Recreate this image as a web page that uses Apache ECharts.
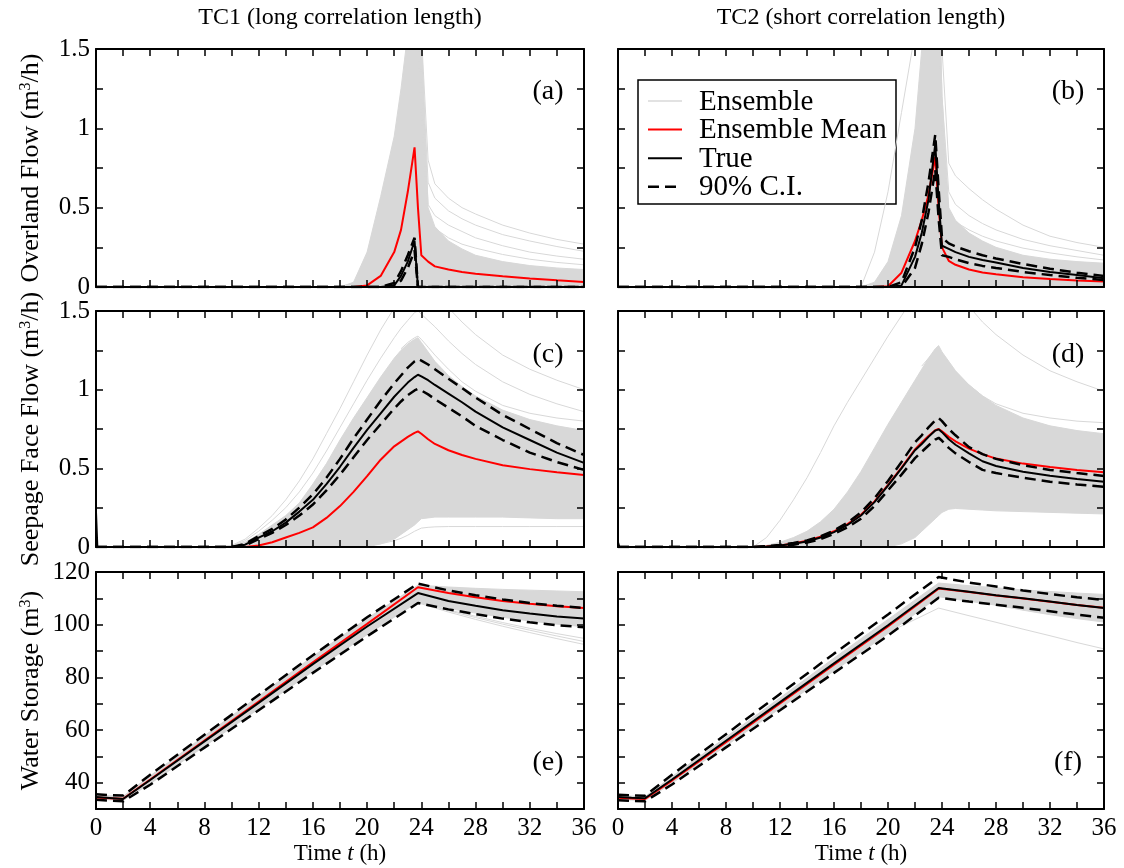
<!DOCTYPE html>
<html>
<head>
<meta charset="utf-8">
<script src="https://cdn.jsdelivr.net/npm/echarts@6/dist/echarts.min.js"></script>
<style>html,body{margin:0;padding:0;background:#fff}#c{width:1124px;height:868px}</style>
</head>
<body>
<div id="c"></div>
<script>
// ---------- time grids (h) ----------
const T  = [0, 0.1, 2, 4, 6, 8, 10, 11, 12, 13, 14, 15, 16, 17, 18, 19, 20, 21, 22, 22.5, 23, 23.5, 23.75, 24, 24.5, 25, 26, 27, 28, 30, 32, 34, 36];
const TT = [23.5, 23.75, 24, 24.5, 25, 26, 27, 28, 30, 32, 34, 36];
const TC = [22.5, 23, 23.5, 23.75, 24, 24.5, 25, 26, 27, 28, 30, 32, 34, 36];
const TS = [0, 1, 2, 4, 8, 12, 16, 20, 23.75, 26, 28, 30, 32, 34, 36];
const TE = [20, 23.75, 26, 28, 30, 32, 34, 36];

// ---------- (a) Overland flow, TC1 ----------
const aMean = [0,0,0,0,0,0,0,0,0,0,0,0,0,0,0,0, 0.01,0.07,0.22,0.36,0.6,0.88,0.5,0.2,0.16,0.13,0.11,0.095,0.084,0.068,0.053,0.042,0.032];
const aTrue = [0,0,0,0,0,0,0,0,0,0,0,0,0,0,0,0,0,0, 0.01,0.07,0.16,0.29,0,0, 0,0,0,0,0,0,0,0,0];
const aUp   = [0,0,0,0,0,0,0,0,0,0,0,0,0,0,0,0,0,0, 0.025,0.1,0.2,0.31,0,0, 0,0,0,0,0,0,0,0,0];
const aLo   = [0,0,0,0,0,0,0,0,0,0,0,0,0,0,0,0,0,0, 0,0.04,0.12,0.23,0,0, 0,0,0,0,0,0,0,0,0];
const aBandHi = [0,0,0,0,0,0,0,0,0,0,0,0,0,0,0, 0.03,0.22,0.57,0.95,1.25,1.6,2.0,2.0,1.6,0.5,0.38,0.29,0.24,0.2,0.16,0.135,0.12,0.11];
const aE1 = [2.0,2.0,1.6,0.8,0.65,0.56,0.5,0.46,0.39,0.34,0.3,0.27];
const aE2 = [2.0,2.0,1.5,0.66,0.56,0.48,0.43,0.39,0.33,0.29,0.255,0.225];
const aE3 = [2.0,1.8,1.3,0.52,0.45,0.39,0.35,0.31,0.26,0.22,0.195,0.175];
const aE4 = [2.0,1.6,1.1,0.44,0.37,0.31,0.27,0.245,0.205,0.175,0.155,0.14];

// ---------- (b) Overland flow, TC2 ----------
const bMean = [0,0,0,0,0,0,0,0,0,0,0,0,0,0,0,0, 0.005,0.09,0.29,0.42,0.58,0.82,0.5,0.25,0.165,0.14,0.11,0.092,0.08,0.062,0.05,0.041,0.034];
const bTrue = [0,0,0,0,0,0,0,0,0,0,0,0,0,0,0,0,0, 0.01,0.19,0.34,0.55,0.9,0.55,0.26,0.24,0.22,0.19,0.17,0.155,0.12,0.095,0.075,0.055];
const bUp   = [0,0,0,0,0,0,0,0,0,0,0,0,0,0,0,0,0, 0.03,0.25,0.42,0.66,0.96,0.62,0.31,0.275,0.255,0.225,0.2,0.18,0.145,0.115,0.09,0.07];
const bLo   = [0,0,0,0,0,0,0,0,0,0,0,0,0,0,0,0,0, 0,0.12,0.27,0.47,0.74,0.43,0.2,0.19,0.175,0.15,0.133,0.12,0.095,0.075,0.058,0.044];
const bBandHi = [0,0,0,0,0,0,0,0,0,0,0,0,0,0,0, 0.03,0.16,0.45,1.0,1.5,2.0,2.2,2.0,1.2,0.5,0.42,0.34,0.29,0.25,0.2,0.175,0.16,0.15];
const bE1 = [0,0,0,0,0,0,0,0,0,0,0,0,0,0, 0,0.22,0.6,1.1,1.6,1.9,2.2,2.4,2.2,1.5,0.78,0.7,0.62,0.55,0.49,0.39,0.32,0.28,0.25];
const bE2 = [2.2,2.0,1.2,0.6,0.52,0.45,0.4,0.36,0.3,0.26,0.23,0.2];
const bE3 = [2.2,1.8,1.0,0.47,0.41,0.36,0.32,0.29,0.245,0.215,0.19,0.17];

// ---------- (c) Seepage face flow, TC1 ----------
const cTrue = [0.22,0, 0,0,0,0,0, 0.015,0.06,0.1,0.155,0.225,0.3,0.4,0.51,0.63,0.745,0.85, 0.955,1.0,1.045,1.08,1.095,1.085,1.06,1.03, 0.975,0.92,0.86, 0.76,0.68,0.6,0.535];
const cUp   = [0,0,0,0,0,0,0, 0.02,0.07,0.115,0.175,0.25,0.335,0.44,0.56,0.69,0.81,0.93, 1.04,1.09,1.14,1.18,1.195,1.185,1.16,1.13, 1.07,1.01,0.95, 0.84,0.75,0.66,0.585];
const cLo   = [0,0,0,0,0,0,0, 0.01,0.05,0.09,0.14,0.2,0.27,0.36,0.46,0.57,0.68,0.78, 0.88,0.925,0.965,0.995,1.005,0.995,0.97,0.94, 0.885,0.83,0.77, 0.68,0.6,0.54,0.49];
const cMean = [0,0,0,0,0,0,0,0, 0.01,0.03,0.06,0.09,0.125,0.185,0.26,0.35,0.45,0.555, 0.64,0.67,0.7,0.725,0.735,0.72,0.685,0.655, 0.615,0.585,0.56, 0.52,0.495,0.475,0.457];
const cBandLo = [0,0,0,0,0,0,0,0,0,0,0,0,0,0,0,0,0, 0.02, 0.05,0.08,0.11,0.14,0.16,0.18,0.185,0.19, 0.19,0.19,0.19, 0.19,0.185,0.18,0.18];
const cBandHi = [0,0,0,0,0,0, 0.005, 0.03,0.08,0.14,0.2,0.28,0.4,0.53,0.68,0.82,0.95,1.08, 1.2,1.25,1.29,1.32,1.33,1.3,1.24,1.18, 1.09,1.02,0.96, 0.87,0.81,0.77,0.74];
const cE1 = [0,0,0,0,0,0, 0.01, 0.05,0.12,0.2,0.3,0.42,0.56,0.72,0.88,1.05,1.22,1.38, 1.52,1.58,1.64,1.7,1.72,1.7,1.66,1.62, 1.52,1.43,1.35, 1.22,1.13,1.06,1.0];
const cE2 = [0,0,0,0,0,0, 0.005, 0.04,0.1,0.17,0.25,0.35,0.47,0.61,0.76,0.91,1.06,1.2, 1.33,1.39,1.44,1.49,1.5,1.48,1.44,1.4, 1.31,1.23,1.16, 1.05,0.97,0.91,0.86];
const cE3 = [0,0,0,0,0,0,0,0,0,0,0,0,0,0,0,0, 0.01,0.02, 0.04,0.055,0.075,0.1,0.11,0.12,0.125,0.128, 0.13,0.13,0.13, 0.13,0.13,0.13,0.13];
const cE4 = [1.26,1.3,1.33,1.34,1.32,1.27,1.22,1.13,1.05,0.99,0.9,0.85,0.82,0.8];

// ---------- (d) Seepage face flow, TC2 ----------
const dTrue = [0.03,0, 0,0,0,0,0, 0.003,0.01,0.02,0.035,0.06,0.095,0.14,0.2,0.285,0.39,0.5, 0.615,0.655,0.7,0.74,0.748,0.73,0.685,0.65, 0.595,0.545,0.515, 0.478,0.453,0.432,0.414];
const dMean = [0,0,0,0,0,0,0, 0.003,0.01,0.022,0.04,0.065,0.1,0.145,0.205,0.29,0.395,0.505, 0.62,0.665,0.705,0.742,0.75,0.735,0.7,0.672, 0.625,0.59,0.562, 0.53,0.508,0.49,0.475];
const dUp   = [0,0,0,0,0,0,0, 0.005,0.013,0.025,0.042,0.068,0.105,0.155,0.22,0.31,0.42,0.54, 0.665,0.71,0.76,0.805,0.82,0.8,0.75,0.71, 0.635,0.59,0.56, 0.52,0.49,0.47,0.452];
const dLo   = [0,0,0,0,0,0,0, 0.002,0.007,0.015,0.028,0.05,0.083,0.125,0.18,0.26,0.36,0.46, 0.565,0.605,0.645,0.683,0.694,0.675,0.63,0.595, 0.54,0.49,0.47, 0.44,0.415,0.398,0.383];
const dBandLo = [0,0,0,0,0,0,0,0,0,0,0,0,0,0,0,0,0, 0.02, 0.06,0.1,0.14,0.18,0.2,0.22,0.24,0.245, 0.24,0.235,0.23, 0.225,0.22,0.215,0.21];
const dBandHi = [0,0,0,0,0,0,0, 0.01,0.03,0.06,0.1,0.16,0.24,0.35,0.48,0.63,0.78,0.92, 1.06,1.13,1.2,1.26,1.28,1.24,1.18,1.12, 1.03,0.96,0.9, 0.82,0.77,0.74,0.72];
const dOut = [0,0,0,0,0,0, 0, 0.06,0.17,0.3,0.44,0.6,0.77,0.92,1.06,1.2,1.34,1.47, 1.6,1.66,1.72,1.77,1.78,1.76,1.72,1.67, 1.53,1.43,1.35, 1.22,1.12,1.05,0.99];
const dE2 = [1.15,1.2,1.24,1.25,1.22,1.16,1.11,1.03,0.96,0.91,0.85,0.82,0.8,0.79];

// ---------- (e) Water storage, TC1 ----------
const eTrue = [34.6,34.2,33.8,41.0,55.7,70.3,85.0,99.3,112.0,109.0,107.2,105.5,104.2,103.1,102.3];
const eMean = [34.4,34.1,33.9,41.2,56.0,70.8,85.7,100.3,114.2,112.0,110.4,109.0,107.9,107.0,106.3];
const eUp   = [35.6,35.3,35.1,43.0,58.2,73.3,88.4,102.8,115.6,113.0,111.2,109.6,108.2,107.2,106.3];
const eLo   = [33.5,33.2,32.9,39.2,53.3,67.5,81.7,95.6,108.2,105.8,104.0,102.3,100.9,99.8,99.0];
const eBandHi = [35.3,35.0,34.8,42.6,57.8,72.9,88.0,102.4,115.0,114.3,113.8,113.4,113.1,112.8,112.5];
const eBandLo = [33.8,33.5,33.2,39.6,53.8,68.0,82.2,96.2,108.6,106.2,104.4,102.8,101.4,100.2,99.2];
const eE1 = [98.5,108.6,105.3,102.7,100.2,97.9,95.7,93.6];
const eE2 = [98.8,108.9,105.6,103.2,100.8,98.6,96.6,94.8];
const eE3 = [98.2,108.3,104.8,102.0,99.4,97.0,94.7,92.5];

// ---------- (f) Water storage, TC2 ----------
const fTrue = [34.6,34.3,34.1,41.2,55.9,70.6,85.3,99.8,113.9,112.5,111.2,110.0,108.8,107.5,106.3];
const fMean = [34.3,34.0,33.8,40.8,55.4,70.1,84.8,99.3,113.7,112.4,111.1,109.9,108.7,107.5,106.4];
const fUp   = [35.4,35.2,35.0,43.0,58.4,73.7,89.0,103.9,118.1,116.0,114.5,113.0,111.6,110.4,109.4];
const fLo   = [33.3,33.1,32.9,39.3,53.4,67.5,81.7,95.8,110.2,108.8,107.6,106.4,105.1,103.8,102.6];
const fBandHi = [35.1,34.9,34.7,42.3,57.3,72.2,87.3,102.0,115.8,114.8,114.0,113.2,112.6,112.0,111.5];
const fBandLo = [33.6,33.4,33.2,39.8,54.0,68.2,82.4,96.6,110.6,108.9,107.4,105.5,103.8,102.3,101.0];
const fOut  = [34.5,34.2,33.9,40.8,55.3,69.8,83.7,97.0,106.3,103.4,100.9,98.3,95.8,93.2,90.8];

// ---------- labels ----------
const colTitles = ['TC1 (long correlation length)', 'TC2 (short correlation length)'];
const panelTags = ['(a)', '(b)', '(c)', '(d)', '(e)', '(f)'];
const yNames = ['Overland Flow (m{s|3}/h)', 'Seepage Face Flow (m{s|3}/h)', 'Water Storage (m{s|3})'];
const xName = 'Time {it|t} (h)';
const legendNames = ['Ensemble', 'Ensemble Mean', 'True', '90% C.I.'];

// ---------- styling / layout ----------
const FONT = "'Liberation Serif','Times New Roman','DejaVu Serif',serif";
const GRAY = '#d8d8d8';
const RED = '#ff0000';
const DASH = [11, 6];

const layout = [
  {g:{left:96,  top:49,  width:488, height:238}, col:0, row:0, tag:[548, 92]},
  {g:{left:618, top:49,  width:486, height:238}, col:1, row:0, tag:[1068, 92]},
  {g:{left:96,  top:311, width:488, height:236}, col:0, row:1, tag:[548, 355]},
  {g:{left:618, top:311, width:486, height:236}, col:1, row:1, tag:[1068, 355]},
  {g:{left:96,  top:572, width:488, height:237}, col:0, row:2, tag:[548, 763]},
  {g:{left:618, top:572, width:486, height:237}, col:1, row:2, tag:[1068, 763]}
];

const flowFmt = v => (Math.abs(v * 2 - Math.round(v * 2)) < 1e-6 ? String(+v.toFixed(2)) : '');
const storFmt = v => (v % 20 === 0 ? String(v) : '');

const grids = [], xAxes = [], yAxes = [], series = [], graphics = [];

layout.forEach((p, i) => {
  grids.push(Object.assign({containLabel:false, show:false}, p.g));
  const isStor = p.row === 2;
  const common = {
    type:'value', gridIndex:i, z:5, splitLine:{show:false},
    axisLine:{show:true, onZero:false, lineStyle:{color:'#000', width:2}},
    axisTick:{show:true, inside:true, length:7, lineStyle:{color:'#000', width:1.5}},
    minorTick:{show:false}
  };
  const labStyle = {fontFamily:FONT, fontSize:25, color:'#000'};
  xAxes.push(Object.assign({}, common, {
    position:'bottom', min:0, max:36, interval:2,
    axisLabel:Object.assign({show:isStor, margin:7, showMinLabel:true, showMaxLabel:true,
      formatter:v => (v % 4 === 0 ? String(v) : '')}, labStyle),
    name: isStor ? xName : '', nameLocation:'middle', nameGap:33,
    nameTextStyle:{fontFamily:FONT, fontSize:23, color:'#000', rich:{it:{fontFamily:FONT, fontSize:23, fontStyle:'italic', color:'#000'}}}
  }));
  xAxes.push(Object.assign({}, common, {position:'top', min:0, max:36, interval:2, axisLabel:{show:false}}));
  yAxes.push(Object.assign({}, common, {
    position:'left',
    min: isStor ? 30 : 0, max: isStor ? 120 : 1.5, interval: isStor ? 10 : 0.25,
    axisLabel:Object.assign({show:p.col === 0, margin:6, showMinLabel:true, showMaxLabel:true,
      formatter: isStor ? storFmt : flowFmt}, labStyle),
    name: p.col === 0 ? yNames[p.row] : '', nameLocation:'middle', nameGap:52, nameRotate:90,
    nameTextStyle:{fontFamily:FONT, fontSize:26, color:'#000',
      rich:{s:{fontFamily:FONT, fontSize:16, color:'#000', verticalAlign:'top'}}}
  }));
  yAxes.push(Object.assign({}, common, {position:'right',
    min: isStor ? 30 : 0, max: isStor ? 120 : 1.5, interval: isStor ? 10 : 0.25,
    axisLabel:{show:false}}));
  graphics.push({type:'text', x:p.tag[0], y:p.tag[1], z:50,
    style:{text:panelTags[i], fontFamily:FONT, fontSize:28, fill:'#000', align:'center', verticalAlign:'middle', textAlign:'center', textVerticalAlign:'middle'}});
});

const pairs = (ts, vs) => ts.map((t, k) => [t, vs[k] === null ? '-' : vs[k]]);

function line(pi, ts, vs, style) {
  series.push({type:'line', xAxisIndex:2 * pi, yAxisIndex:2 * pi, data:pairs(ts, vs),
    symbol:'none', showSymbol:false, silent:true, clip:true, lineStyle:style, z:2});
}
function band(pi, ts, lo, hi) {
  const baseY = yAxes[2 * pi].min;
  const rows = ts.map((t, k) => [t, lo ? lo[k] : baseY, hi[k]]);
  series.push({type:'custom', xAxisIndex:2 * pi, yAxisIndex:2 * pi, silent:true, clip:true, z:2,
    data:rows, encode:{x:0, y:[1, 2]},
    renderItem:(params, api) => {
      if (params.dataIndex !== 0) return null;
      const pts = [];
      rows.forEach(r => pts.push(api.coord([r[0], r[2]])));
      for (let k = rows.length - 1; k >= 0; k--) pts.push(api.coord([rows[k][0], rows[k][1]]));
      const cs = params.coordSys;
      return {type:'polygon', shape:{points:pts}, style:{fill:GRAY, stroke:GRAY, lineWidth:1},
        clipPath:{type:'rect', shape:{x:cs.x, y:cs.y, width:cs.width, height:cs.height}}};
    }});
}
const sGray = {color:GRAY, width:1};
const sRed = {color:RED, width:2};
const sTrue = {color:'#000', width:2};
const sDash = {color:'#000', width:2.5, type:DASH};

function panel(pi, ts, band_, grays, mean, tru, up, lo) {
  band(pi, ts, band_[0], band_[1]);
  grays.forEach(g => line(pi, g[0], g[1], sGray));
  line(pi, ts, mean, sRed);
  line(pi, ts, tru, sTrue);
  line(pi, ts, up, sDash);
  line(pi, ts, lo, sDash);
}

panel(0, T, [null, aBandHi], [[TT, aE1], [TT, aE2], [TT, aE3], [TT, aE4]], aMean, aTrue, aUp, aLo);
panel(1, T, [null, bBandHi], [[T, bE1], [TT, bE2], [TT, bE3]], bMean, bTrue, bUp, bLo);
panel(2, T, [cBandLo, cBandHi], [[T, cE1], [T, cE2], [T, cE3], [TC, cE4]], cMean, cTrue, cUp, cLo);
panel(3, T, [dBandLo, dBandHi], [[T, dOut], [TC, dE2]], dMean, dTrue, dUp, dLo);
panel(4, TS, [eBandLo, eBandHi], [[TE, eE1], [TE, eE2], [TE, eE3]], eMean, eTrue, eUp, eLo);
panel(5, TS, [fBandLo, fBandHi], [[TS, fOut]], fMean, fTrue, fUp, fLo);

// column titles
graphics.push({type:'text', x:340, y:18, style:{text:colTitles[0], fontFamily:FONT, fontSize:24, fill:'#000', align:'center', verticalAlign:'middle', textAlign:'center', textVerticalAlign:'middle'}});
graphics.push({type:'text', x:861, y:18, style:{text:colTitles[1], fontFamily:FONT, fontSize:24, fill:'#000', align:'center', verticalAlign:'middle', textAlign:'center', textVerticalAlign:'middle'}});

// legend box in panel (b)
const legStyles = [sGray, sRed, sTrue, sDash];
const legEls = [{type:'rect', shape:{x:638, y:80, width:258, height:124}, style:{fill:'#fff', stroke:'#000', lineWidth:1.5}}];
legendNames.forEach((n, k) => {
  const y = 101 + k * 28.6;
  const st = legStyles[k];
  legEls.push({type:'line', shape:{x1:648, y1:y, x2:682, y2:y},
    style:{stroke:st.color, lineWidth:st.width === 1 ? 1.5 : st.width, lineDash:st.type ? st.type : null}});
  legEls.push({type:'text', x:699, y:y + 1, style:{text:n, fontFamily:FONT, fontSize:29, fill:'#000', align:'left', verticalAlign:'middle', textAlign:'left', textVerticalAlign:'middle'}});
});
graphics.push({type:'group', z:100, children:legEls});

const chart = echarts.init(document.getElementById('c'), null, {renderer:'canvas'});
chart.setOption({
  animation:false,
  backgroundColor:'#fff',
  grid:grids, xAxis:xAxes, yAxis:yAxes, series:series, graphic:graphics
});
</script>
</body>
</html>
